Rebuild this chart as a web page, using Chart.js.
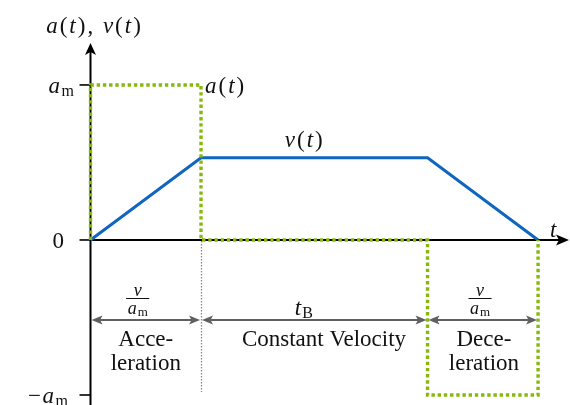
<!DOCTYPE html>
<html>
<head>
<meta charset="utf-8">
<title>Trapezoidal velocity profile</title>
<script src="https://cdn.jsdelivr.net/npm/chart.js@4.4.1/dist/chart.umd.min.js"></script>
<style>
  html, body { margin: 0; padding: 0; background: #fff; }
  #profile { display: block; }
</style>
</head>
<body>
<canvas id="profile" width="570" height="405"></canvas>
<script>
// data (t in units of v/a_m, values in units of a_m)
const phaseBounds = [0, 1, 3.05, 4.05];
const velocity = [0, 0.53, 0.53, 0];
const accelTimes = [0, 0, 1, 1, 3.05, 3.05, 4.05, 4.05];
const accelValues = [0, 1, 1, 0, 0, -1, -1, 0];
const yTickValues = [1, 0, -1];
const yTickLabels = ['a_m', '0', '−a_m'];
const spanLabels = ['v/a_m', 't_B', 'v/a_m'];
const phaseNames = [['Acce-', 'leration'], ['Constant Velocity'], ['Dece-', 'leration']];
const curveNames = ['a(t)', 'v(t)'];
const axisTitles = ['t', 'a(t), v(t)'];

// where the annotations sit (data units)
const spanLabelX = [0.427, 1.93, 3.525];
const phaseNameX = [0.5, 2.113, 3.56];
const dimLevel = -0.516;
const axisTop = 1.271;
const guideBottom = -0.98;

const SERIF = '"Liberation Serif", "DejaVu Serif", serif';
const GREEN = '#88b80e';
const BLUE = '#0f65bf';
const GREY = '#5f5f5f';

// split "a_m" style strings into glyph runs: letters italic, rest upright, subscript smaller
function mathParts(str, size) {
  const [main, sub] = str.split('_');
  const parts = [];
  for (const ch of main) {
    const it = /[a-z]/i.test(ch);
    parts.push({ t: ch, f: (it ? 'italic ' : '') + size + 'px ' + SERIF });
  }
  if (sub) parts.push({ t: sub, f: Math.round(size * 0.7) + 'px ' + SERIF, dy: size * 0.13 });
  return parts;
}

function drawRich(ctx, parts, x, y, align, gap) {
  gap = gap || 0;
  let w = 0;
  parts.forEach((p, i) => {
    ctx.font = p.f;
    w += ctx.measureText(p.t).width + (i ? gap : 0);
  });
  let cx = align === 'center' ? x - w / 2 : align === 'right' ? x - w : x;
  parts.forEach((p, i) => {
    if (i) cx += gap;
    ctx.font = p.f;
    ctx.fillText(p.t, cx, y + (p.dy || 0));
    cx += ctx.measureText(p.t).width;
  });
  return w;
}

function richWidth(ctx, parts, gap) {
  let w = 0;
  parts.forEach((p, i) => {
    ctx.font = p.f;
    w += ctx.measureText(p.t).width + (i ? (gap || 0) : 0);
  });
  return w;
}

function arrowHead(ctx, tx, ty, dx, dy, len, half, indent, color) {
  const px = -dy, py = dx;
  ctx.beginPath();
  ctx.moveTo(tx, ty);
  ctx.lineTo(tx - dx * len + px * half, ty - dy * len + py * half);
  ctx.lineTo(tx - dx * (len - indent), ty - dy * (len - indent));
  ctx.lineTo(tx - dx * len - px * half, ty - dy * len - py * half);
  ctx.closePath();
  ctx.fillStyle = color;
  ctx.fill();
}

function drawFraction(ctx, num, den, cx, barY, size) {
  const n = mathParts(num, size), d = mathParts(den, size);
  const w = Math.max(richWidth(ctx, n, 1), richWidth(ctx, d, 1)) + 3;
  drawRich(ctx, n, cx, barY - 3, 'center', 1);
  drawRich(ctx, d, cx, barY + 15.5, 'center', 1);
  ctx.strokeStyle = '#111';
  ctx.lineWidth = 1;
  ctx.beginPath();
  ctx.moveTo(cx - w / 2, barY);
  ctx.lineTo(cx + w / 2, barY);
  ctx.stroke();
}

// axes, ticks and the grey guide go under the curves
const axesPlugin = {
  id: 'axes',
  beforeDatasetsDraw(chart) {
    const { ctx, chartArea } = chart;
    const xs = chart.scales.x, ys = chart.scales.y;
    const x0 = xs.getPixelForValue(0), y0 = ys.getPixelForValue(0);
    ctx.save();
    ctx.strokeStyle = '#000';
    ctx.lineWidth = 2;
    const top = ys.getPixelForValue(axisTop);
    ctx.beginPath();
    ctx.moveTo(x0, chartArea.bottom);
    ctx.lineTo(x0, top + 8);
    ctx.stroke();
    arrowHead(ctx, x0, top, 0, -1, 12, 5.5, 3, '#000');
    ctx.beginPath();
    ctx.moveTo(x0, y0);
    ctx.lineTo(chartArea.right - 8, y0);
    ctx.stroke();
    arrowHead(ctx, chartArea.right - 1, y0, 1, 0, 13, 5.5, 3, '#000');
    ctx.lineWidth = 1.6;
    yTickValues.forEach(v => {
      const py = ys.getPixelForValue(v);
      ctx.beginPath();
      ctx.moveTo(x0 - 11, py);
      ctx.lineTo(x0, py);
      ctx.stroke();
    });
    // grey dotted guide under the end of the acceleration phase
    const gx = Math.round(xs.getPixelForValue(phaseBounds[1])) + 0.5;
    ctx.strokeStyle = '#888';
    ctx.lineWidth = 1.3;
    ctx.setLineDash([1.5, 1.5]);
    ctx.beginPath();
    ctx.moveTo(gx, y0 + 1);
    ctx.lineTo(gx, ys.getPixelForValue(guideBottom));
    ctx.stroke();
    ctx.restore();
  }
};

// labels and the dimension arrows
const notesPlugin = {
  id: 'notes',
  afterDatasetsDraw(chart) {
    const { ctx, chartArea } = chart;
    const xs = chart.scales.x, ys = chart.scales.y;
    const x0 = xs.getPixelForValue(0), y0 = ys.getPixelForValue(0);
    ctx.save();
    ctx.fillStyle = '#111';
    ctx.textAlign = 'left';
    ctx.textBaseline = 'alphabetic';

    // tick labels
    const tickRight = [16.5, 26.5, 22.5];
    yTickValues.forEach((v, i) => {
      const py = ys.getPixelForValue(v);
      drawRich(ctx, mathParts(yTickLabels[i], 23), x0 - tickRight[i], py + 8, 'right', 1.5);
    });

    // axis titles
    drawRich(ctx, mathParts(axisTitles[1], 23), x0 + 3, ys.getPixelForValue(axisTop) - 10, 'center', 2);
    drawRich(ctx, mathParts(axisTitles[0], 23), chartArea.right - 20, y0 - 3, 'left', 0);

    // curve names
    drawRich(ctx, mathParts(curveNames[0], 23), xs.getPixelForValue(phaseBounds[1]) + 4,
      ys.getPixelForValue(accelValues[1]) + 8, 'left', 2);
    drawRich(ctx, mathParts(curveNames[1], 23), xs.getPixelForValue(spanLabelX[1]),
      ys.getPixelForValue(velocity[1]) - 11, 'center', 2);

    // dimension arrows between phase boundaries
    const dy = Math.round(ys.getPixelForValue(dimLevel));
    for (let i = 0; i < phaseBounds.length - 1; i++) {
      const a = xs.getPixelForValue(phaseBounds[i]) + 1;
      const b = xs.getPixelForValue(phaseBounds[i + 1]) - 1;
      ctx.strokeStyle = GREY;
      ctx.lineWidth = 2;
      ctx.beginPath();
      ctx.moveTo(a + 8, dy);
      ctx.lineTo(b - 8, dy);
      ctx.stroke();
      arrowHead(ctx, a, dy, -1, 0, 11, 4.5, 2.5, GREY);
      arrowHead(ctx, b, dy, 1, 0, 11, 4.5, 2.5, GREY);

      ctx.fillStyle = '#111';
      const sx = xs.getPixelForValue(spanLabelX[i]);
      const lab = spanLabels[i];
      if (lab.includes('/')) {
        const [num, den] = lab.split('/');
        drawFraction(ctx, num, den, sx, dy - 21.5, 18);
      } else {
        drawRich(ctx, mathParts(lab, 23), sx, dy - 5, 'center', 1);
      }

      ctx.font = '23px ' + SERIF;
      ctx.textAlign = 'center';
      const nx = xs.getPixelForValue(phaseNameX[i]);
      phaseNames[i].forEach((line, k) => {
        ctx.fillText(line, nx, dy + 26 + k * 24);
      });
      ctx.textAlign = 'left';
    }
    ctx.restore();
  }
};

const ctx = document.getElementById('profile').getContext('2d');
const chart = new Chart(ctx, {
  type: 'scatter',
  data: {
    datasets: [
      {
        label: curveNames[0],
        data: accelTimes.map((t, i) => ({ x: t, y: accelValues[i] })),
        showLine: true,
        borderColor: GREEN,
        borderWidth: 3.4,
        borderDash: [3.4, 2.8],
        borderCapStyle: 'butt',
        borderJoinStyle: 'miter',
        pointRadius: 0,
        tension: 0,
        fill: false
      },
      {
        label: curveNames[1],
        data: phaseBounds.map((t, i) => ({ x: t, y: velocity[i] })),
        showLine: true,
        borderColor: BLUE,
        borderWidth: 3,
        borderJoinStyle: 'miter',
        pointRadius: 0,
        tension: 0,
        fill: false
      }
    ]
  },
  options: {
    responsive: false,
    animation: false,
    layout: { padding: 0 },
    plugins: {
      legend: { display: false },
      tooltip: { enabled: false }
    },
    scales: {
      x: { type: 'linear', min: -0.819, max: 4.339, display: false },
      y: { type: 'linear', min: -1.0645, max: 1.548, display: false }
    }
  },
  plugins: [axesPlugin, notesPlugin]
});
</script>
</body>
</html>
